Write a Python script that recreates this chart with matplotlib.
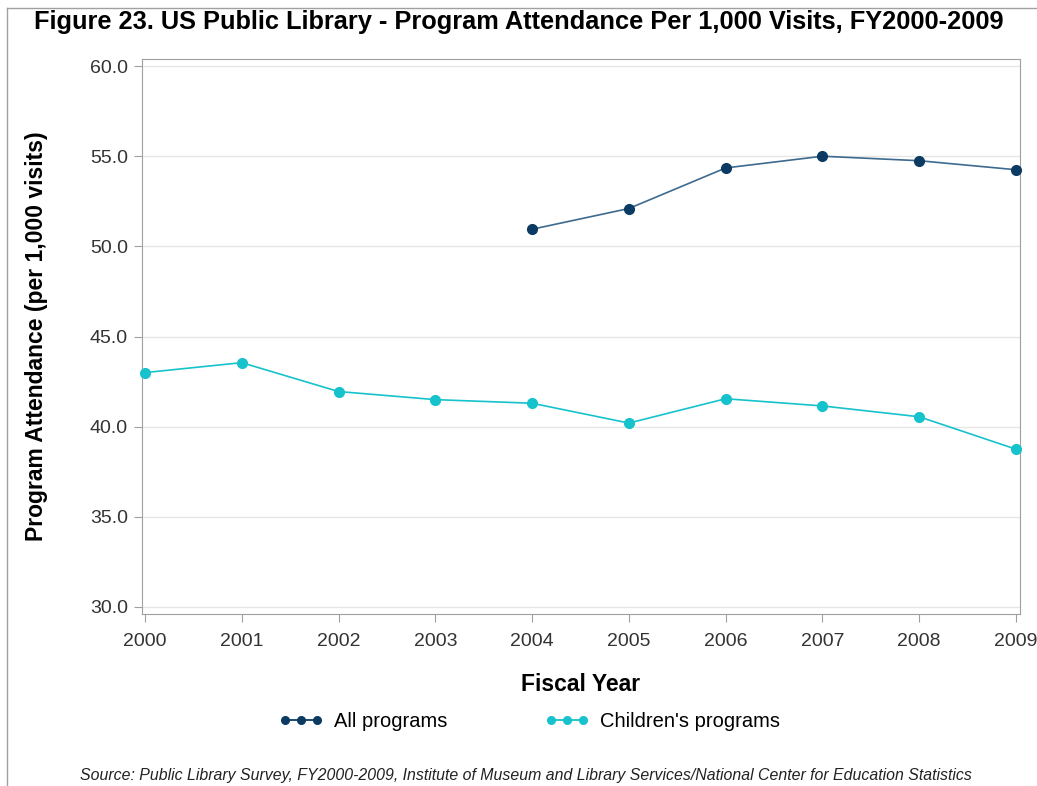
import matplotlib
matplotlib.use('Agg')
import matplotlib.pyplot as plt
from matplotlib.lines import Line2D

# Data
years = [2000, 2001, 2002, 2003, 2004, 2005, 2006, 2007, 2008, 2009]
all_years = [2004, 2005, 2006, 2007, 2008, 2009]
all_programs = [50.95, 52.1, 54.35, 55.0, 54.75, 54.25]
children_programs = [43.0, 43.55, 41.95, 41.5, 41.3, 40.2, 41.55, 41.15, 40.55, 38.75]
yticks = [30, 35, 40, 45, 50, 55, 60]

navy = '#0b3b63'
cyan = '#16c2cc'

plt.rcParams['font.family'] = ['Liberation Sans', 'DejaVu Sans']

fig = plt.figure(figsize=(10.37, 7.86), dpi=100)
ax = fig.add_axes([0.1369, 0.2188, 0.8467, 0.7061])

ax.plot(all_years, all_programs, color='#3d6a8e', lw=1.2, marker='o', ms=7,
        mfc=navy, mec=navy, zorder=3, clip_on=False, label='All programs')
ax.plot(years, children_programs, color=cyan, lw=1.2, marker='o', ms=7,
        mfc=cyan, mec=cyan, zorder=3, clip_on=False, label="Children's programs")

ax.set_xlim(1999.969, 2009.041)
ax.set_ylim(29.61, 60.39)
ax.set_xticks(years)
ax.set_yticks(yticks)
ax.set_yticklabels(['%.1f' % v for v in yticks])
ax.grid(axis='y', color='#e6e6e6', lw=1)
ax.set_axisbelow(True)
for s in ax.spines.values():
    s.set_color('#a0a0a0')
ax.tick_params(colors='#a0a0a0', labelcolor='#333333', labelsize=14, length=6)
ax.tick_params(axis='x', pad=8)
ax.tick_params(axis='y', pad=4)

ax.set_xlabel('Fiscal Year', fontsize=16.5, fontweight='bold', labelpad=16)
ax.set_ylabel('Program Attendance (per 1,000 visits)', fontsize=16.5, fontweight='bold', labelpad=30)

fig.text(0.5, 0.972, 'Figure 23. US Public Library - Program Attendance Per 1,000 Visits, FY2000-2009',
         ha='center', va='center', fontsize=18.3, fontweight='bold')
fig.text(0.507, 0.013, 'Source: Public Library Survey, FY2000-2009, Institute of Museum and Library Services/National Center for Education Statistics',
         ha='center', va='center', fontsize=11.4, style='italic', color='#222222')

handles = [
    Line2D([0], [0], color=navy, lw=1.3, marker='o', ms=5.5, label='All programs'),
    Line2D([0], [0], color=cyan, lw=1.3, marker='o', ms=5.5, label="Children's programs"),
]
fig.legend(handles=handles, loc='center', bbox_to_anchor=(0.5106, 0.082), ncol=2,
           frameon=False, fontsize=14.5, columnspacing=4.8, handlelength=2.2,
           handletextpad=0.55, numpoints=3)

# outer frame lines
fig.add_artist(Line2D([0.007, 0.007], [0, 0.99], color='#a0a0a0', lw=1, transform=fig.transFigure))
fig.add_artist(Line2D([0.007, 1], [0.99, 0.99], color='#a0a0a0', lw=1, transform=fig.transFigure))

plt.savefig('out.png', dpi=100)
